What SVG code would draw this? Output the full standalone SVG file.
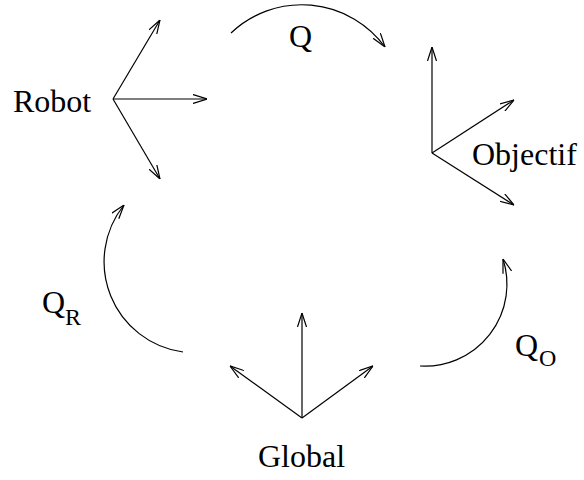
<svg xmlns="http://www.w3.org/2000/svg" width="584" height="480" viewBox="0 0 584 480">
<style>
  .ln { fill: none; stroke: #000; stroke-width: 1.2; marker-end: url(#ah); }
  .lbl { font-family: "Liberation Serif", "Times New Roman", serif; font-size: 32px; fill: #000; }
  .sub { font-size: 24px; }
</style>
<defs>
  <marker id="ah" viewBox="0 0 14 10" refX="14" refY="5" markerWidth="14" markerHeight="10" markerUnits="userSpaceOnUse" orient="auto">
    <path d="M0,0.5 L14,5 L0,9.5" fill="none" stroke="#000" stroke-width="1.2"/>
  </marker>
</defs>
<rect width="584" height="480" fill="#fff"/>
<g id="robot">
  <line class="ln" x1="113" y1="99" x2="160" y2="20"/>
  <line class="ln" x1="113" y1="99" x2="207" y2="99"/>
  <line class="ln" x1="113" y1="99" x2="160" y2="179"/>
  <text class="lbl" x="13" y="112">Robot</text>
</g>
<g id="objectif">
  <line class="ln" x1="432" y1="153" x2="432" y2="47"/>
  <line class="ln" x1="432" y1="153" x2="514" y2="100"/>
  <line class="ln" x1="432" y1="153" x2="514" y2="205"/>
  <text class="lbl" x="472" y="165">Objectif</text>
</g>
<g id="global">
  <line class="ln" x1="302" y1="418" x2="302" y2="313"/>
  <line class="ln" x1="302" y1="418" x2="373" y2="366"/>
  <line class="ln" x1="302" y1="418" x2="230" y2="366"/>
  <text class="lbl" x="258" y="467">Global</text>
</g>
<g id="connectors">
  <path class="ln" d="M231,33 A103,103 0 0,1 385,47"/>
  <path class="ln" d="M183,352 A91,91 0 0,1 124,205"/>
  <path class="ln" d="M420,366 A82,82 0 0,0 503,259"/>
  <text class="lbl" x="289" y="47">Q</text>
  <text class="lbl" x="42" y="313">Q<tspan class="sub" x="65" y="325">R</tspan></text>
  <text class="lbl" x="515" y="356">Q<tspan class="sub" x="539" y="366">O</tspan></text>
</g>
</svg>
